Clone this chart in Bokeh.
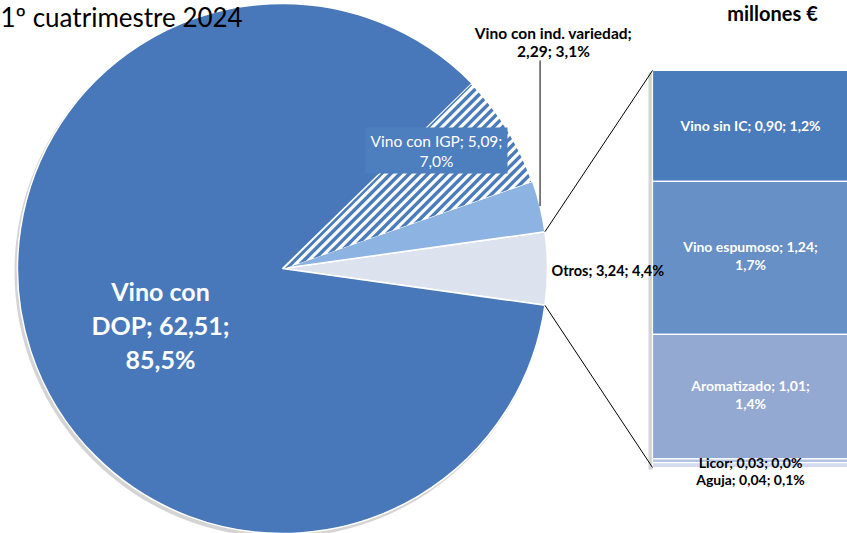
import math
from bokeh.plotting import figure
from bokeh.models import Range1d
from bokeh.core.properties import value
from bokeh.embed import file_html
from bokeh.resources import INLINE

# ---------------- data ----------------
pie_labels = ["Vino con DOP", "Vino con IGP", "Vino con ind. variedad", "Otros"]
pie_values = [62.51, 5.09, 2.29, 3.24]
bar_labels = ["Vino sin IC", "Vino espumoso", "Aromatizado", "Licor", "Aguja"]
bar_values = [0.90, 1.24, 1.01, 0.03, 0.04]
title_text = "1º cuatrimestre 2024"
unit_text = "millones €"

total = sum(pie_values)


def fmt(v, d):
    return f"{v:.{d}f}".replace(".", ",")


def make_label(name, v):
    return f"{name}; {fmt(v, 2)}; {fmt(100 * v / total, 1)}%"


# ---------------- layout (image pixel coords, y flipped) ----------------
W, H = 847, 533


def Y(py):
    return H - py


p = figure(width=W, height=H, output_backend="svg", toolbar_location=None,
           x_range=Range1d(0, W), y_range=Range1d(0, H), min_border=0)
p.axis.visible = False
p.grid.visible = False
p.outline_line_color = None
p.background_fill_color = "white"
p.border_fill_color = "white"

FONT = value("Lato")

# ---------------- pie ----------------
cx, cy, r = 282, Y(268), 265
pie_colors = ["#4878B9", "white", "#8DB3E2", "#DDE3EE"]
order = [3, 2, 1, 0]  # anticlockwise from "Otros" centred on the right
fr = [v / total for v in pie_values]
a = -math.pi * fr[3]
angles = {}
for i in order:
    s = a
    e = a + 2 * math.pi * fr[i]
    angles[i] = (s, e)
    a = e

# soft shadow
p.circle(x=[cx - 2], y=[cy - 3], radius=r + 1, fill_color="#6f6f6f", fill_alpha=0.3, line_color=None)

for i in order:
    s, e = angles[i]
    p.wedge(x=[cx], y=[cy], radius=r, start_angle=[s], end_angle=[e],
            fill_color=pie_colors[i], line_color="white", line_width=1.5)


# hatch stripes for "Vino con IGP" (clipped to its wedge)
def clip_half(poly, nx, ny, c, keep_ge):
    out = []
    n = len(poly)
    for k in range(n):
        P, Q = poly[k], poly[(k + 1) % n]
        dp = nx * P[0] + ny * P[1] - c
        dq = nx * Q[0] + ny * Q[1] - c
        inp = dp >= 0 if keep_ge else dp <= 0
        inq = dq >= 0 if keep_ge else dq <= 0
        if inp:
            out.append(P)
        if inp != inq:
            t = dp / (dp - dq)
            out.append((P[0] + t * (Q[0] - P[0]), P[1] + t * (Q[1] - P[1])))
    return out


s1, e1 = angles[1]
rr = r - 1.5
wedge_poly = [(cx + 2, cy)] + [(cx + rr * math.cos(s1 + (e1 - s1) * k / 60),
                                cy + rr * math.sin(s1 + (e1 - s1) * k / 60)) for k in range(61)]
nx, ny = 1 / math.sqrt(2), -1 / math.sqrt(2)
period, sw = 6.6, 3.4
proj = [nx * q[0] + ny * q[1] for q in wedge_poly]
xs_h, ys_h = [], []
k0 = math.floor(min(proj) / period) - 1
while k0 * period < max(proj) + period:
    lo = k0 * period
    poly = clip_half(wedge_poly, nx, ny, lo, True)
    poly = clip_half(poly, nx, ny, lo + sw, False) if poly else []
    if len(poly) >= 3:
        xs_h.append([q[0] for q in poly])
        ys_h.append([q[1] for q in poly])
    k0 += 1
p.patches(xs=xs_h, ys=ys_h, fill_color="#4A7CBB", line_color=None)

# ---------------- bar of pie ----------------
bx0, bx1, btop, bbot = 652, 880, Y(70), Y(467)
bar_total = sum(bar_values)
scale = (btop - bbot) / bar_total
bar_colors = ["#4A7CBB", "#6790C6", "#94A9D2", "#B4C4E2", "#D3DCEE"]
tops, bottoms = [], []
cur = btop
for v in bar_values:
    tops.append(cur)
    cur -= v * scale
    bottoms.append(cur)
p.quad(left=[bx0 - 4], right=[bx0], top=[btop - 2], bottom=[bbot - 2], fill_color="#d4d4d4", line_color=None)
p.quad(left=[bx0] * len(bar_values), right=[bx1] * len(bar_values), top=tops, bottom=bottoms,
       fill_color=bar_colors, line_color="white", line_width=1.2)

# connector lines
s3, e3 = angles[3]
p.line(x=[cx + r * math.cos(e3), bx0], y=[cy + r * math.sin(e3), btop], line_color="black", line_width=1)
p.line(x=[cx + r * math.cos(s3), bx0], y=[cy + r * math.sin(s3), bbot], line_color="black", line_width=1)

# leader line for "ind. variedad"
s2, e2 = angles[2]
m2 = (s2 + e2) / 2
lx, ly = cx + r * math.cos(m2), cy + r * math.sin(m2)
p.line(x=[lx, lx], y=[ly, Y(60)], line_color="black", line_width=1)


# ---------------- texts ----------------
def txt(x, y, s, size, color="black", bold=True, align="center", baseline="middle"):
    p.text(x=[x], y=[y], text=[s], text_font=FONT, text_font_size=value(f"{size}px"),
           text_color=color, text_font_style="bold" if bold else "normal",
           text_align=align, text_baseline=baseline)


txt(0, Y(0), title_text, 26, bold=False, align="left", baseline="top")
txt(772, Y(12), unit_text, 20)

# pie labels
parts0 = make_label(pie_labels[0], pie_values[0]).split("; ")
dop_lines = ["Vino con", parts0[0].replace("Vino con ", "") + "; " + parts0[1] + ";", parts0[2]]
for k, s in enumerate(dop_lines):
    txt(160, Y(290 + 34 * k), s, 25, color="white")

l1 = make_label(pie_labels[1], pie_values[1]).split("; ")
p.quad(left=[365], right=[507], top=[Y(127)], bottom=[Y(173)], fill_color="#4D7EBD", line_color=None)
txt(436, Y(140), l1[0] + "; " + l1[1] + ";", 15.5, color="white", bold=False)
txt(436, Y(160), l1[2], 15.5, color="white", bold=False)

l2 = make_label(pie_labels[2], pie_values[2]).split("; ")
txt(553, Y(32), l2[0] + ";", 15.5)
txt(553, Y(50), l2[1] + "; " + l2[2], 15.5)

txt(551, Y(270), make_label(pie_labels[3], pie_values[3]), 14.5, align="left")

# bar labels
bcx = 750
mid = [(t + b) / 2 for t, b in zip(tops, bottoms)]
txt(bcx, mid[0], make_label(bar_labels[0], bar_values[0]), 14, color="white")
for k in (1, 2):
    parts = make_label(bar_labels[k], bar_values[k]).split("; ")
    ty = mid[k] + 11
    txt(bcx, ty, parts[0] + "; " + parts[1] + ";", 14, color="white")
    txt(bcx, ty - 18, parts[2], 14, color="white")
txt(bcx, Y(462), make_label(bar_labels[3], bar_values[3]), 14)
txt(bcx, Y(479), make_label(bar_labels[4], bar_values[4]), 14)

open("out.html", "w").write(file_html(p, INLINE))
